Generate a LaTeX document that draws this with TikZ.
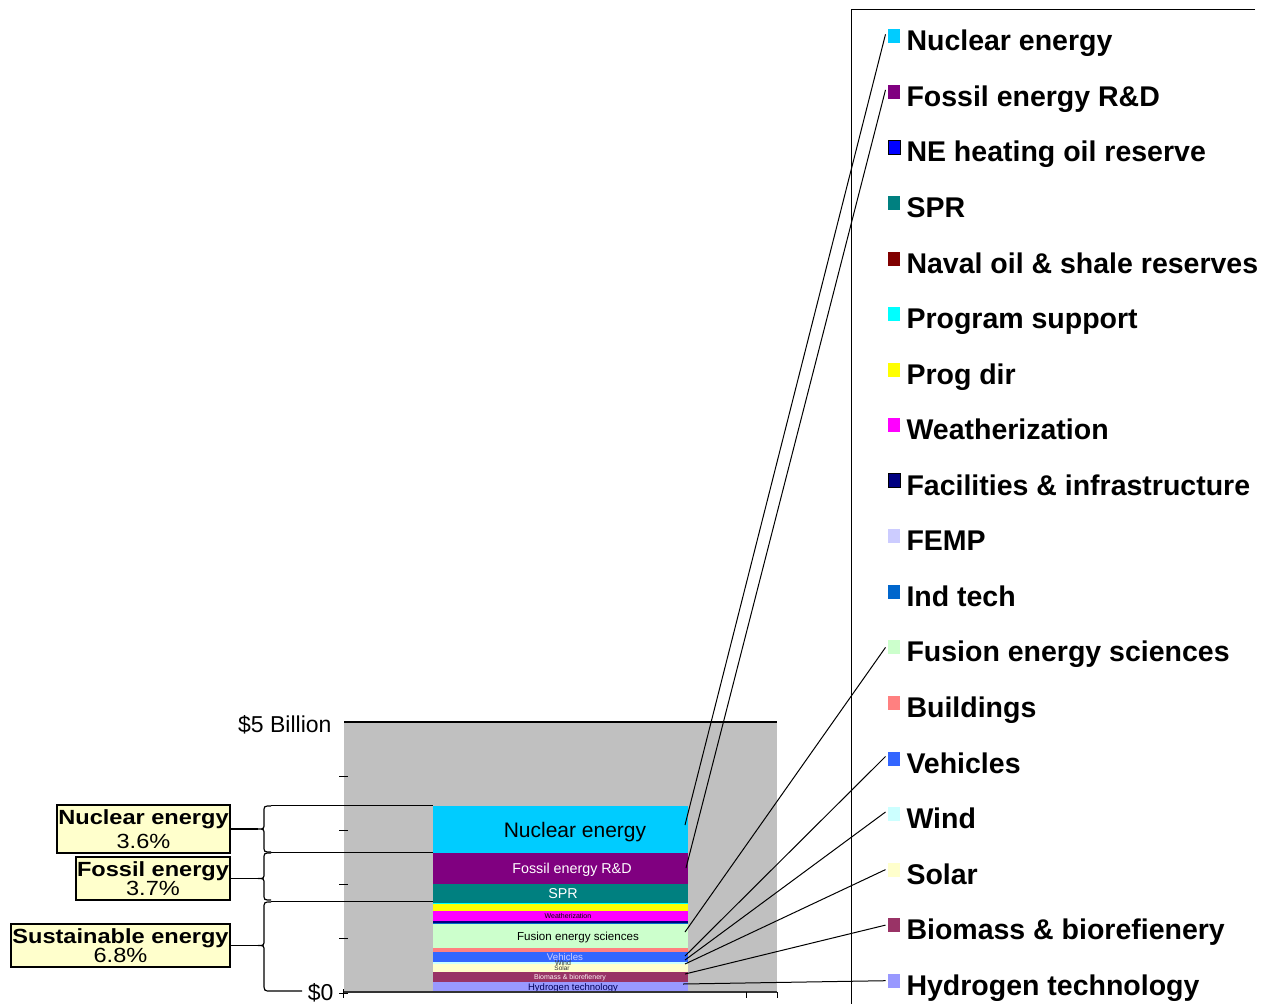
\documentclass[tikz,border=0pt]{standalone}
\usepackage{fontspec}
\setmainfont{Liberation Sans}
\newfontfamily\widesans[FakeStretch=1.15]{Liberation Sans}

\definecolor{plotgrey}{HTML}{C0C0C0}
\definecolor{axisgrey}{HTML}{333333}
\definecolor{boxyellow}{HTML}{FFFFCC}
\definecolor{nuclear}{HTML}{00CCFF}
\definecolor{fossil}{HTML}{800080}
\definecolor{neheat}{HTML}{0000FF}
\definecolor{spr}{HTML}{008080}
\definecolor{naval}{HTML}{800000}
\definecolor{progsup}{HTML}{00FFFF}
\definecolor{progdir}{HTML}{FFFF00}
\definecolor{weather}{HTML}{FF00FF}
\definecolor{facil}{HTML}{000080}
\definecolor{femp}{HTML}{CCCCFF}
\definecolor{indtech}{HTML}{0066CC}
\definecolor{fusion}{HTML}{CCFFCC}
\definecolor{buildings}{HTML}{FF8080}
\definecolor{vehicles}{HTML}{3366FF}
\definecolor{wind}{HTML}{CCFFFF}
\definecolor{solar}{HTML}{FFFFCC}
\definecolor{biomass}{HTML}{993366}
\definecolor{hydrogen}{HTML}{9999FF}

\begin{document}
\begin{tikzpicture}[x=1pt,y=-1pt,line width=1pt,
    legtext/.style={anchor=base west,inner sep=0pt,font=\fontsize{28.5}{30}\selectfont\bfseries},
    swatch/.style={minimum width=12pt,minimum height=14pt,inner sep=0pt},
    seglabel/.style={inner sep=0pt},
    sumbox/.style={draw,fill=boxyellow,line width=1.2pt,inner sep=0pt,align=center,
        font=\widesans\fontsize{20.5}{18}\selectfont},
    leader/.style={line width=1pt}]
    \useasboundingbox (0,0) rectangle (1268,1004);
    % plotvlak
    \fill[plotgrey] (344,722) rectangle (777,992);
    \draw[line width=1.5pt] (344,722) -- (777,722);
    % staaf
    \fill[nuclear] (433,806) rectangle (688,853);
    \fill[fossil] (433,853) rectangle (688,884);
    \fill[spr] (433,884) rectangle (688,903);
    \fill[progsup] (433,903) rectangle (688,904);
    \fill[progdir] (433,904) rectangle (688,911);
    \fill[weather] (433,911) rectangle (688,921);
    \fill[facil] (433,921) rectangle (688,922.5);
    \fill[indtech] (433,922.5) rectangle (688,924);
    \fill[fusion] (433,924) rectangle (688,948);
    \fill[buildings] (433,948) rectangle (688,952);
    \fill[vehicles] (433,952) rectangle (688,962);
    \fill[wind] (433,962) rectangle (688,964);
    \fill[solar] (433,964) rectangle (688,972);
    \fill[biomass] (433,972) rectangle (688,982);
    \fill[hydrogen] (433,982) rectangle (688,992);
    % labels in staaf
    \node[seglabel,font=\fontsize{21}{21}\selectfont] (nuclbl) at (575,832) {Nuclear energy};
    \node[seglabel,white,font=\fontsize{14.3}{14}\selectfont] (foslbl) at (572,870) {Fossil energy R\&D};
    \node[seglabel,white,font=\fontsize{14.3}{14}\selectfont] (sprlbl) at (563,894) {SPR};
    \node[seglabel,font=\fontsize{7}{7}\selectfont] (weatlbl) at (568,916) {Weatherization};
    \node[seglabel,font=\fontsize{11.6}{12}\selectfont] (fuslbl) at (578,937) {Fusion energy sciences};
    \node[seglabel,femp,font=\fontsize{9.7}{10}\selectfont] (vehlbl) at (565,957) {Vehicles};
    \node[seglabel,axisgrey,font=\fontsize{7}{7}\selectfont] (windlbl) at (563,962.5) {Wind};
    \node[seglabel,axisgrey,font=\fontsize{6.5}{7}\selectfont] (sollbl) at (562,968) {Solar};
    \node[seglabel,white!85!pink,font=\fontsize{7}{7}\selectfont] (biolbl) at (570,977.5) {Biomass \& biorefienery};
    \node[seglabel,facil!70!black,font=\fontsize{9.5}{10}\selectfont] (hydlbl) at (573,988) {Hydrogen technology};
    % assen
    \draw[axisgrey,line width=2pt] (344,992) -- (777,992);
    \draw (339,776) -- (348,776);
    \draw (339,830) -- (348,830);
    \draw (339,884) -- (348,884);
    \draw (339,938) -- (348,938);
    \draw (339,993) -- (348,993);
    \draw (343,989) -- (343,998);
    \draw (746,992) -- (746,998);
    \draw (777,992) -- (777,998);
    \node[anchor=east,inner sep=0pt,font=\fontsize{23}{23}\selectfont] (fivebn) at (332,725) {\$5 Billion};
    \node[anchor=east,inner sep=0pt,font=\fontsize{23}{23}\selectfont] (zero) at (334,992.5) {\$0};
    \coordinate (zerostub) at (302,991);
    % groepen links
    \draw (271,805) -- (433,805);
    \draw (271,852) -- (433,852);
    \draw (271,901) -- (433,901);
    \coordinate (nuctip) at (258,829);
    \coordinate (fostip) at (258,878.5);
    \coordinate (sustip) at (258,945.5);
    \draw[line width=1.2pt] (271,806) .. controls (264,806) .. (264,812) -- (264,823)
        .. controls (264,829) .. (nuctip) .. controls (264,829) .. (264,835) -- (264,846)
        .. controls (264,852) .. (271,852);
    \draw[line width=1.2pt] (271,853) .. controls (264,853) .. (264,859) -- (264,872.5)
        .. controls (264,878.5) .. (fostip) .. controls (264,878.5) .. (264,884.5) -- (264,894)
        .. controls (264,900) .. (271,900);
    \draw[line width=1.2pt] (271,902) .. controls (264,902) .. (264,909) -- (264,939.5)
        .. controls (264,945.5) .. (sustip) .. controls (264,945.5) .. (264,951.5) -- (264,983)
        .. controls (264,991) .. (271,991) -- (zerostub);
    \node[sumbox,minimum width=173pt,minimum height=48pt,font=\widesans\fontsize{20.5}{24}\selectfont]
        (nucbox) at (143.5,829) {\textbf{Nuclear energy}\\3.6\%};
    \node[sumbox,minimum width=154pt,minimum height=43pt] (fosbox) at (153,878.5) {\textbf{Fossil energy}\\3.7\%};
    \node[sumbox,minimum width=219pt,minimum height=43pt] (susbox) at (120.5,945.5) {\textbf{Sustainable energy}\\6.8\%};
    \draw[line width=1.2pt] (nucbox.east) -- (nuctip);
    \draw[line width=1.2pt] (fosbox.east) -- (fostip);
    \draw[line width=1.2pt] (susbox.east) -- (sustip);
    % legenda
    \draw (1255,9) -- (851,9) -- (851,1004);
    \node[swatch,fill=nuclear] (nucsw) at (894,36.3) {};       \node[legtext] (nucleg) at (906,50.8) {Nuclear energy};
    \node[swatch,fill=fossil] (fossw) at (894,91.9) {};        \node[legtext] (fosleg) at (906,106.4) {Fossil energy R\&D};
    \node[swatch,fill=neheat,draw=black] (neosw) at (894,147.4) {}; \node[legtext] (neoleg) at (906,161.9) {NE heating oil reserve};
    \node[swatch,fill=spr] (sprsw) at (894,203) {};            \node[legtext] (sprleg) at (906,217.5) {SPR};
    \node[swatch,fill=naval] (navsw) at (894,258.5) {};        \node[legtext] (navleg) at (906,273) {Naval oil \& shale reserves};
    \node[swatch,fill=progsup] (supsw) at (894,314.1) {};      \node[legtext] (supleg) at (906,328.6) {Program support};
    \node[swatch,fill=progdir] (dirsw) at (894,369.6) {};      \node[legtext] (dirleg) at (906,384.1) {Prog dir};
    \node[swatch,fill=weather] (weasw) at (894,425.2) {};      \node[legtext] (wealeg) at (906,439.7) {Weatherization};
    \node[swatch,fill=facil,draw=black] (facsw) at (894,480.7) {}; \node[legtext] (facleg) at (906,495.2) {Facilities \& infrastructure};
    \node[swatch,fill=femp] (femsw) at (894,536.3) {};         \node[legtext] (femleg) at (906,550.8) {FEMP};
    \node[swatch,fill=indtech] (indsw) at (894,591.8) {};      \node[legtext] (indleg) at (906,606.3) {Ind tech};
    \node[swatch,fill=fusion] (fussw) at (894,647.4) {};       \node[legtext] (fusleg) at (906,661.9) {Fusion energy sciences};
    \node[swatch,fill=buildings] (bldsw) at (894,702.9) {};    \node[legtext] (bldleg) at (906,717.4) {Buildings};
    \node[swatch,fill=vehicles] (vehsw) at (894,758.5) {};     \node[legtext] (vehleg) at (906,773) {Vehicles};
    \node[swatch,fill=wind] (windsw) at (894,814) {};          \node[legtext] (windleg) at (906,828.5) {Wind};
    \node[swatch,fill=solar] (solsw) at (894,869.6) {};        \node[legtext] (solleg) at (906,884.1) {Solar};
    \node[swatch,fill=biomass] (biosw) at (894,925.1) {};      \node[legtext] (bioleg) at (906,939.6) {Biomass \& biorefienery};
    \node[swatch,fill=hydrogen] (hydsw) at (894,980.7) {};     \node[legtext] (hydleg) at (906,995.2) {Hydrogen technology};
    % verbindingslijnen
    \coordinate (nucpt) at (685,825);
    \coordinate (fospt) at (686,868);
    \coordinate (fuspt) at (685,932);
    \coordinate (vehpt) at (685,956);
    \coordinate (windpt) at (685,960);
    \coordinate (solpt) at (685,964);
    \coordinate (biopt) at (685,974);
    \coordinate (hydpt) at (683,984);
    \draw[leader] (nucpt) -- ([xshift=-2pt,yshift=2pt]nucsw.west);
    \draw[leader] (fospt) -- ([xshift=-2pt,yshift=2pt]fossw.west);
    \draw[leader] (fuspt) -- ([xshift=-2pt]fussw.west);
    \draw[leader] (vehpt) -- ([xshift=-2pt,yshift=2pt]vehsw.west);
    \draw[leader] (windpt) -- ([xshift=-2pt,yshift=2pt]windsw.west);
    \draw[leader] (solpt) -- ([xshift=-2pt]solsw.west);
    \draw[leader] (biopt) -- ([xshift=-2pt]biosw.west);
    \draw[leader] (hydpt) -- ([xshift=-2pt]hydsw.west);
\end{tikzpicture}
\end{document}
